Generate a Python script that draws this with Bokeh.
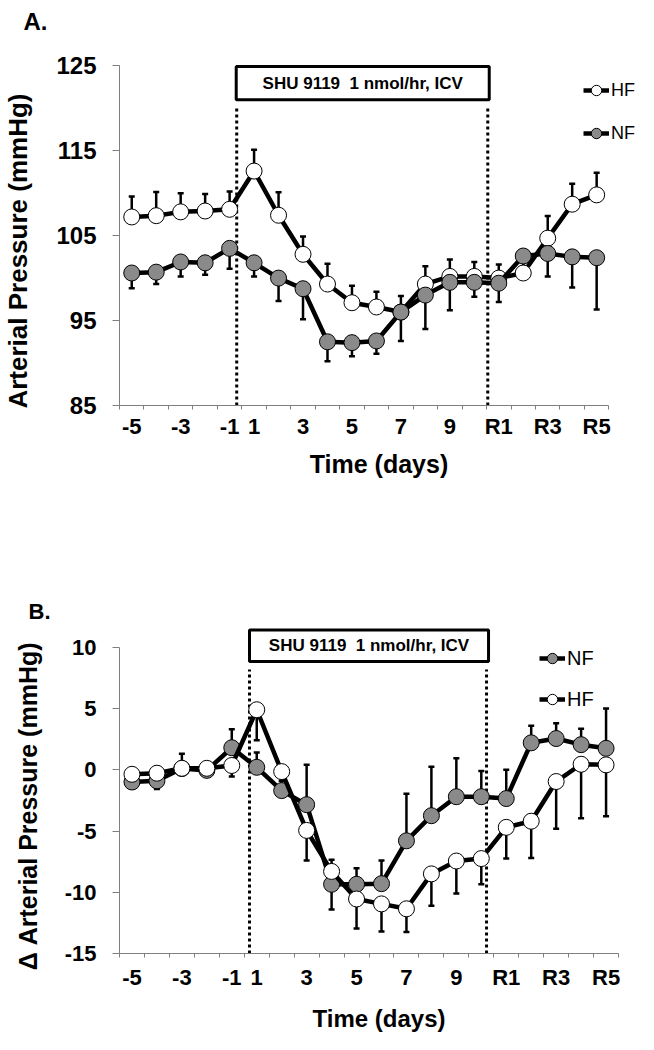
from bokeh.plotting import figure
from bokeh.models import (ColumnDataSource, FixedTicker, Whisker, TeeHead,
                          BoxAnnotation, Legend, LegendItem, Title, Label)
from bokeh.layouts import column
from bokeh.embed import file_html
from bokeh.resources import INLINE

FONT = "Liberation Sans"
GRAY = "#8a8a8a"
AXIS_GRAY = "#7f7f7f"

# ---------------- data ----------------
days = ["-5", "-4", "-3", "-2", "-1", "1", "2", "3", "4", "5", "6", "7", "8", "9", "10",
        "R1", "R2", "R3", "R4", "R5"]
labelled_days = ["-5", "-3", "-1", "1", "3", "5", "7", "9", "R1", "R3", "R5"]

# Panel A: arterial pressure (mmHg), mean and SEM
a_yticks = [85, 95, 105, 115, 125]
hf_pressure = [107.2, 107.35, 107.8, 107.9, 108.1, 112.6, 107.4, 102.8, 99.3, 97.1,
               96.6, 96.0, 99.3, 100.2, 100.2, 100.0, 100.6, 104.7, 108.7, 109.8]
hf_pressure_sem = [2.4, 2.8, 2.2, 2.0, 2.1, 2.5, 2.7, 2.1, 2.4, 2.0,
                   1.8, 1.9, 2.1, 2.0, 1.7, 1.6, 1.5, 2.6, 2.4, 2.6]
nf_pressure = [100.6, 100.7, 101.9, 101.8, 103.5, 101.8, 100.0, 98.75, 92.5, 92.4,
               92.6, 96.0, 98.0, 99.5, 99.5, 99.4, 102.6, 102.9, 102.5, 102.4]
nf_pressure_sem = [1.8, 1.4, 1.7, 1.4, 2.4, 1.6, 2.7, 3.6, 2.3, 1.6,
                   1.5, 3.4, 4.0, 3.3, 1.7, 2.2, 2.4, 2.7, 3.6, 6.1]

# Panel B: change in arterial pressure (mmHg), mean and SEM
b_yticks = [-15, -10, -5, 0, 5, 10]
hf_change = [-0.37, -0.28, 0.12, 0.12, 0.35, 4.9, -0.15, -4.95, -8.3, -10.55,
             -10.95, -11.35, -8.5, -7.45, -7.25, -4.7, -4.2, -0.96, 0.45, 0.4]
hf_change_sem = [0.8, 1.3, 0.5, 0.5, 0.9, 2.5, 1.5, 2.45, 3.1, 2.4,
                 2.25, 1.9, 2.6, 2.65, 2.1, 2.55, 3.0, 3.85, 4.4, 4.2]
nf_change = [-1.0, -0.9, 0.1, -0.05, 1.8, 0.2, -1.7, -2.85, -9.35, -9.35,
             -9.3, -5.8, -3.75, -2.2, -2.2, -2.35, 2.2, 2.55, 2.05, 1.75]
nf_change_sem = [0.5, 0.6, 1.2, 0.3, 1.5, 1.2, 0.8, 3.25, 2.0, 1.3,
                 1.9, 3.85, 4.0, 3.15, 2.1, 2.35, 1.4, 1.25, 1.3, 3.25]

treatment_text = "SHU 9119 \u00a01 nmol/hr, ICV"

x = list(range(len(days)))
label_pos = [days.index(d) for d in labelled_days]
boundaries = [i - 0.5 for i in range(len(days) + 1)]
NB = "\u00a0"


def style_axes(p, yticks, ylabel, ytick_size, ytitle_size, xtick_size, xtitle_size,
               ylabel_standoff, xtick_standoff, xlabel_standoff):
    p.grid.visible = False
    p.outline_line_color = None
    xa = p.xaxis[0]
    xa.ticker = FixedTicker(ticks=label_pos, minor_ticks=boundaries)
    xa.major_label_overrides = {i: days[i] for i in label_pos}
    xa.bounds = (-0.5, len(days) - 0.5)
    xa.axis_line_color = AXIS_GRAY
    xa.major_tick_line_color = None
    xa.major_tick_out = 4
    xa.major_tick_in = 0
    xa.minor_tick_line_color = AXIS_GRAY
    xa.minor_tick_out = 4
    xa.minor_tick_in = 0
    xa.major_label_standoff = xtick_standoff
    xa.major_label_text_font = FONT
    xa.major_label_text_font_style = "bold"
    xa.major_label_text_font_size = xtick_size
    xa.major_label_text_color = "black"
    xa.axis_label = "Time (days)"
    xa.axis_label_text_font = FONT
    xa.axis_label_text_font_style = "bold"
    xa.axis_label_text_font_size = xtitle_size
    xa.axis_label_text_color = "black"
    xa.axis_label_standoff = xlabel_standoff

    ya = p.yaxis[0]
    ya.ticker = FixedTicker(ticks=yticks, minor_ticks=[])
    ya.major_label_overrides = {t: str(t) for t in yticks}
    ya.bounds = (min(yticks), max(yticks))
    ya.axis_line_color = AXIS_GRAY
    ya.major_tick_line_color = AXIS_GRAY
    ya.major_tick_out = 7
    ya.major_tick_in = 0
    ya.minor_tick_line_color = None
    ya.major_label_standoff = 16
    ya.major_label_text_font = FONT
    ya.major_label_text_font_style = "bold"
    ya.major_label_text_font_size = ytick_size
    ya.major_label_text_color = "black"
    ya.axis_label = ylabel
    ya.axis_label_text_font = FONT
    ya.axis_label_text_font_style = "bold"
    ya.axis_label_text_font_size = ytitle_size
    ya.axis_label_text_color = "black"
    ya.axis_label_standoff = ylabel_standoff


def add_series(p, mean, sem, fill, upward):
    mean_hi = [m + s for m, s in zip(mean, sem)]
    mean_lo = [m - s for m, s in zip(mean, sem)]
    src = ColumnDataSource(dict(x=x, y=mean, hi=mean_hi if upward else mean,
                                lo=mean if upward else mean_lo))
    head = TeeHead(size=6, line_width=2.5, line_color="black")
    w = Whisker(base="x", upper="hi", lower="lo", source=src, line_width=2.5, line_color="black",
                upper_head=head if upward else None, lower_head=None if upward else head)
    p.add_layout(w)
    ln = p.line("x", "y", source=src, line_color="black", line_width=4.5)
    sc = p.scatter("x", "y", source=src, marker="circle", size=16, fill_color=fill,
                   line_color="black", line_width=1)
    return ln, sc


def add_treatment(p, box_l, box_r, box_b, box_t, dash_l, dash_r, dash_lo, dash_hi, font_size):
    p.segment(x0=[dash_l, dash_r], y0=[dash_lo, dash_lo], x1=[dash_l, dash_r], y1=[dash_hi, dash_hi],
              line_color="black", line_width=3, line_dash="3 3")
    p.add_layout(BoxAnnotation(left=box_l, right=box_r, bottom=box_b, top=box_t, fill_color="white",
                               fill_alpha=1, line_color="black", line_width=3, line_alpha=1))
    p.add_layout(Label(x=(box_l + box_r) / 2, y=(box_b + box_t) / 2, text=treatment_text,
                       text_align="center", text_baseline="middle", text_font=FONT,
                       text_font_style="bold", text_font_size=font_size, text_color="black"))


def add_legend(p, items, loc, font_size, spacing):
    leg = Legend(items=[LegendItem(label=lab, renderers=list(r)) for lab, r in items],
                 location=loc, orientation="vertical", border_line_color=None,
                 background_fill_alpha=0, padding=0, margin=0, spacing=spacing,
                 glyph_width=26, glyph_height=30, label_standoff=2,
                 label_text_font=FONT, label_text_font_size=font_size, label_text_color="black")
    p.add_layout(leg)


# ---------------- Panel A ----------------
pA = figure(width=638, height=540, x_range=(-0.5, 20.71), y_range=(85, 125.62),
            output_backend="svg", toolbar_location=None,
            min_border_left=113, min_border_right=0, min_border_top=50, min_border_bottom=135,
            background_fill_color="white", border_fill_color="white")
style_axes(pA, a_yticks, "Arterial Pressure (mmHg)" + NB * 5, "24px", "26px",
           "22px", "25px", 20, 4, 8)
add_treatment(pA, 4.27, 14.61, 121.0, 124.9, 4.29, 14.55, 85, 120.0, "17px")
hfA = add_series(pA, hf_pressure, hf_pressure_sem, "white", True)
nfA = add_series(pA, nf_pressure, nf_pressure_sem, GRAY, False)
add_legend(pA, [("HF", hfA), ("NF", nfA)], (464, 257), "18px", 13)
pA.add_layout(Title(text=" ", text_font_size="8px"), "above")
pA.add_layout(Title(text="A.", align="left", offset=-96, text_font=FONT, text_font_style="bold",
                    text_font_size="24px", text_color="black"), "above")

# ---------------- Panel B ----------------
pB = figure(width=638, height=494, x_range=(-0.5, 20.3), y_range=(-15, 11.86),
            output_backend="svg", toolbar_location=None,
            min_border_left=95, min_border_right=0, min_border_top=84, min_border_bottom=78,
            background_fill_color="white", border_fill_color="white")
style_axes(pB, b_yticks, "Δ Arterial Pressure (mmHg)" + NB * 5, "22px", "25px", "22px", "24px",
           20, 7, 12)
add_treatment(pB, 4.71, 14.29, 8.83, 11.42, 4.71, 14.21, -15, 8.19, "17px")
nfB = add_series(pB, nf_change, nf_change_sem, GRAY, True)
hfB = add_series(pB, hf_change, hf_change_sem, "white", False)
add_legend(pB, [("NF", nfB), ("HF", hfB)], (420, 239), "20px", 11)
pB.add_layout(Title(text="B.", align="left", offset=-91, standoff=1, text_font=FONT,
                    text_font_style="bold", text_font_size="22px", text_color="black"), "above")

layout = column(pA, pB, spacing=0)
open("out.html", "w").write(file_html(layout, INLINE))
